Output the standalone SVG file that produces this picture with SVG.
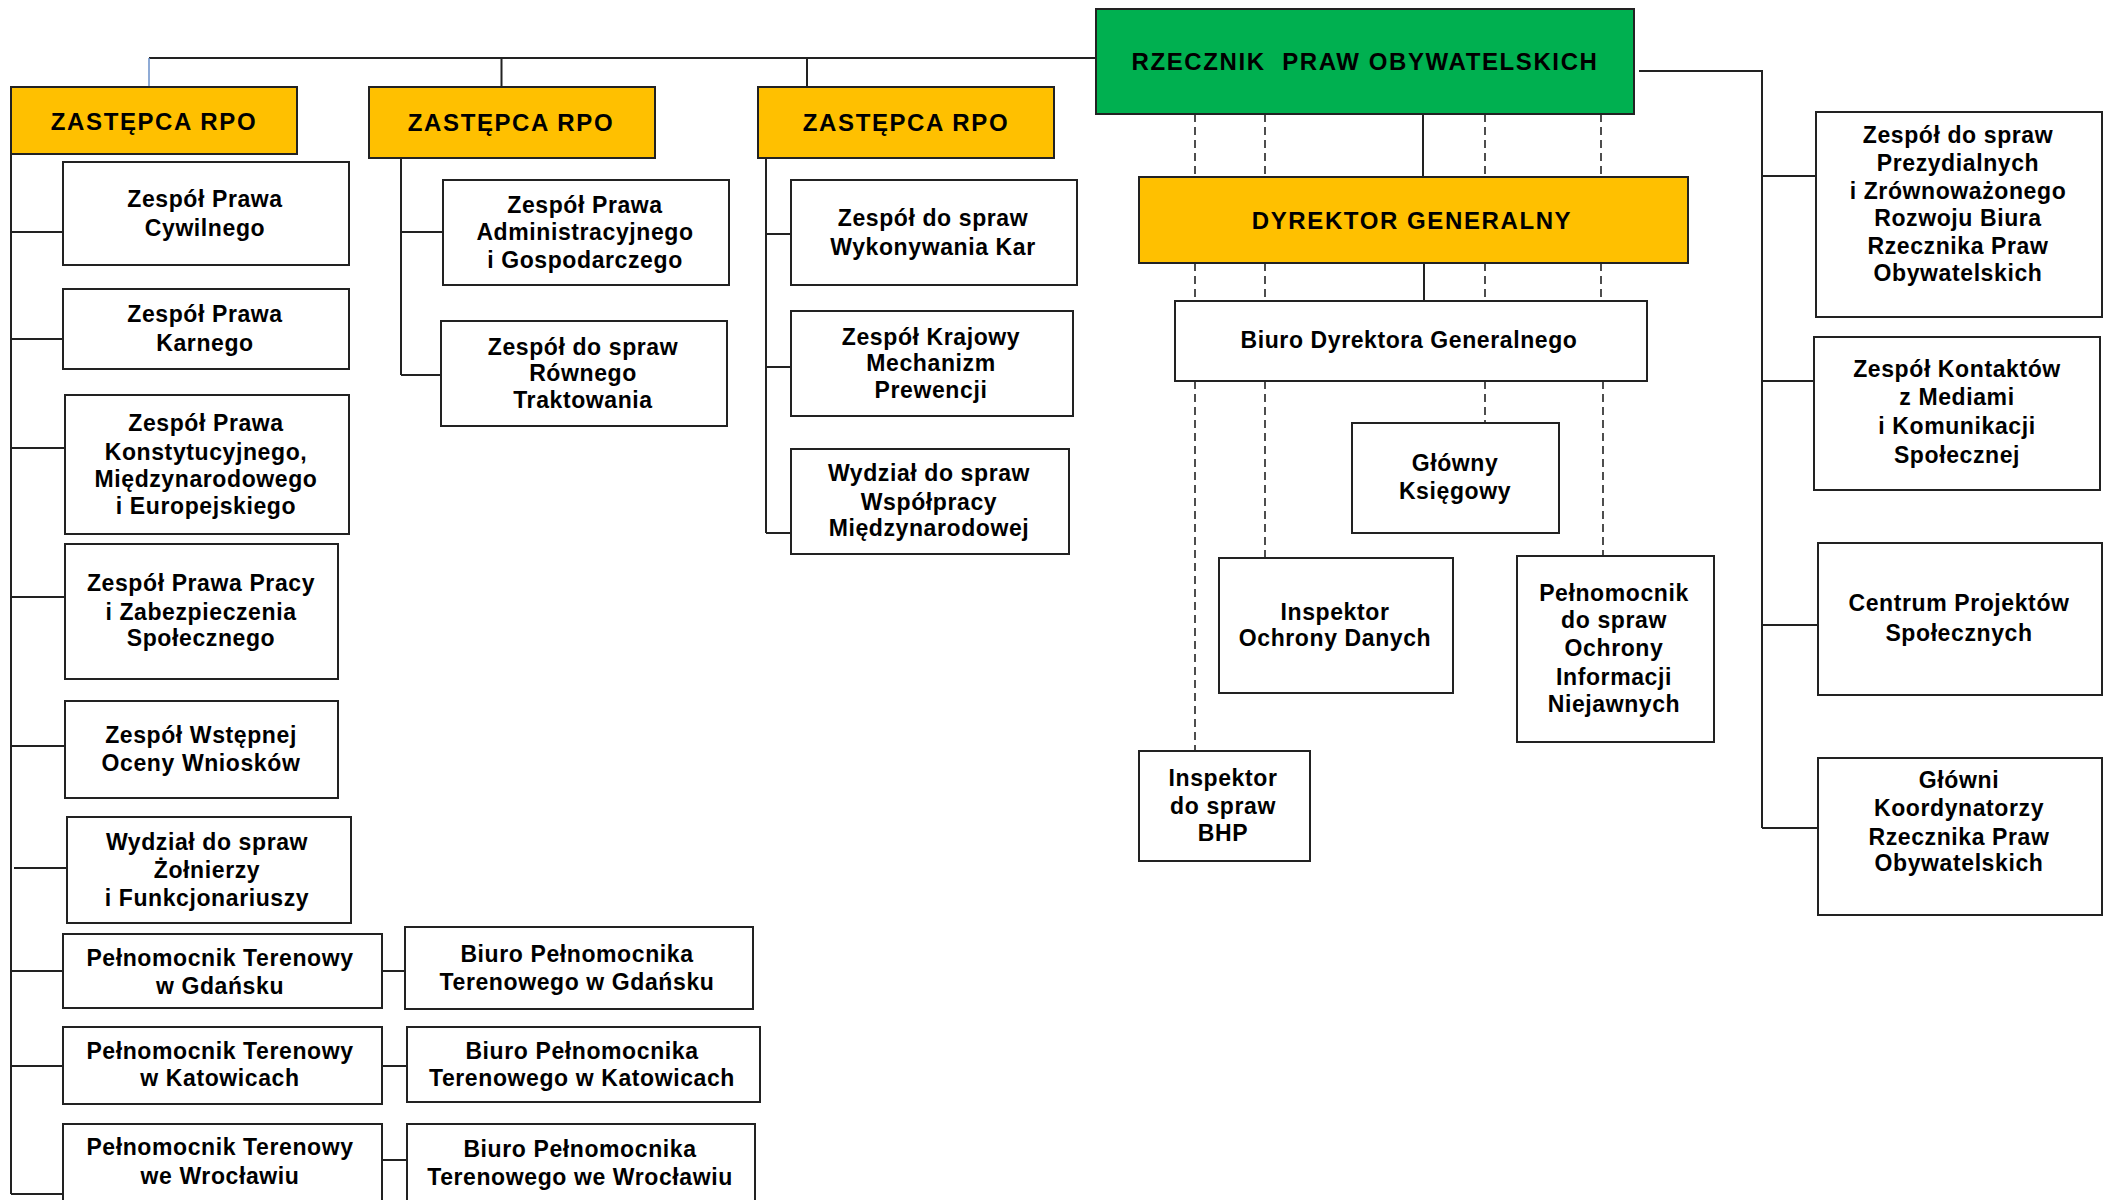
<svg xmlns="http://www.w3.org/2000/svg" width="2105" height="1200" viewBox="0 0 2105 1200">
<style>
.box{fill:#fff;stroke:#222;stroke-width:2}
.g{fill:#00B050}
.y{fill:#FFC000}
.ln{fill:none;stroke:#222;stroke-width:2}
.ds{fill:none;stroke:#222;stroke-width:1.6;stroke-dasharray:8 5}
.bl{fill:none;stroke:#6a8fc8;stroke-width:1.5}
text{font-family:"Liberation Sans",Arial,sans-serif;font-weight:bold;font-size:23px;letter-spacing:0.6px;text-anchor:middle;fill:#000}
text.h{font-size:24px;letter-spacing:1.6px}
</style>
<rect width="2105" height="1200" fill="#fff"/>
<g id="connectors">
<path class="ln" d="M149,58 H1096"/>
<path class="bl" d="M149,58 V87"/>
<path class="ln" d="M501.5,58 V87 M807,58 V87"/>
<path class="ln" d="M1639,71 H1762 V828 M1762,176 H1816 M1762,381 H1814 M1762,625 H1818 M1762,828 H1818"/>
<path class="ln" d="M11,154 V1194 M11,232 H63 M11,339 H63 M11,448 H65 M11,597 H65 M11,746 H65 M14,868 H67 M11,971 H63 M11,1066 H63 M11,1194 H63"/>
<path class="ln" d="M382,971 H405 M382,1066 H407 M382,1160 H407"/>
<path class="ln" d="M401,158 V375 M401,232 H443 M401,375 H441"/>
<path class="ln" d="M766,158 V533 M766,234 H791 M766,367 H791 M766,533 H791"/>
<path class="ln" d="M1423,114 V177 M1424,263 V301"/>
<path class="ds" d="M1195,114 V177 M1265,114 V177 M1485,114 V177 M1601,114 V177"/>
<path class="ds" d="M1195,263 V301 M1265,263 V301 M1485,263 V301 M1601,263 V301"/>
<path class="ds" d="M1195,381 V751 M1265,381 V558 M1485,381 V423 M1603,381 V556"/>
</g>
<g id="rpo"><rect class="box g" x="1096" y="9" width="538" height="105"/><text class="h" x="1365" y="70" xml:space="preserve">RZECZNIK  PRAW OBYWATELSKICH</text></g>
<g id="dg"><rect class="box y" x="1139" y="177" width="549" height="86"/><text class="h" x="1412" y="229">DYREKTOR GENERALNY</text></g>
<g id="biuro-dg"><rect class="box" x="1175" y="301" width="472" height="80"/><text x="1409" y="348">Biuro Dyrektora Generalnego</text></g>
<g id="zastepca1"><rect class="box y" x="11" y="87" width="286" height="67"/><text class="h" x="154" y="130">ZASTĘPCA RPO</text></g>
<g id="zastepca2"><rect class="box y" x="369" y="87" width="286" height="71"/><text class="h" x="511" y="131">ZASTĘPCA RPO</text></g>
<g id="zastepca3"><rect class="box y" x="758" y="87" width="296" height="71"/><text class="h" x="906" y="131">ZASTĘPCA RPO</text></g>
<g id="cywilnego"><rect class="box" x="63" y="162" width="286" height="103"/><text x="205" y="207">Zespół Prawa</text><text x="205" y="236">Cywilnego</text></g>
<g id="karnego"><rect class="box" x="63" y="289" width="286" height="80"/><text x="205" y="322">Zespół Prawa</text><text x="205" y="351">Karnego</text></g>
<g id="konstytucyjnego"><rect class="box" x="65" y="395" width="284" height="139"/><text x="206" y="431">Zespół Prawa</text><text x="206" y="460">Konstytucyjnego,</text><text x="206" y="487">Międzynarodowego</text><text x="206" y="514">i Europejskiego</text></g>
<g id="pracy"><rect class="box" x="65" y="544" width="273" height="135"/><text x="201" y="591">Zespół Prawa Pracy</text><text x="201" y="620">i Zabezpieczenia</text><text x="201" y="646">Społecznego</text></g>
<g id="wstepnej"><rect class="box" x="65" y="701" width="273" height="97"/><text x="201" y="743">Zespół Wstępnej</text><text x="201" y="771">Oceny Wniosków</text></g>
<g id="zolnierzy"><rect class="box" x="67" y="817" width="284" height="106"/><text x="207" y="850">Wydział do spraw</text><text x="207" y="878">Żołnierzy</text><text x="207" y="906">i Funkcjonariuszy</text></g>
<g id="pt-gdansk"><rect class="box" x="63" y="934" width="319" height="74"/><text x="220" y="966">Pełnomocnik Terenowy</text><text x="220" y="994">w Gdańsku</text></g>
<g id="biuro-gdansk"><rect class="box" x="405" y="927" width="348" height="82"/><text x="577" y="962">Biuro Pełnomocnika</text><text x="577" y="990">Terenowego w Gdańsku</text></g>
<g id="pt-katowice"><rect class="box" x="63" y="1027" width="319" height="77"/><text x="220" y="1059">Pełnomocnik Terenowy</text><text x="220" y="1086">w Katowicach</text></g>
<g id="biuro-katowice"><rect class="box" x="407" y="1027" width="353" height="75"/><text x="582" y="1059">Biuro Pełnomocnika</text><text x="582" y="1086">Terenowego w Katowicach</text></g>
<g id="pt-wroclaw"><rect class="box" x="63" y="1124" width="319" height="90"/><text x="220" y="1155">Pełnomocnik Terenowy</text><text x="220" y="1184">we Wrocławiu</text></g>
<g id="biuro-wroclaw"><rect class="box" x="407" y="1124" width="348" height="90"/><text x="580" y="1157">Biuro Pełnomocnika</text><text x="580" y="1185">Terenowego we Wrocławiu</text></g>
<g id="administracyjnego"><rect class="box" x="443" y="180" width="286" height="105"/><text x="585" y="213">Zespół Prawa</text><text x="585" y="240">Administracyjnego</text><text x="585" y="268">i Gospodarczego</text></g>
<g id="rownego"><rect class="box" x="441" y="321" width="286" height="105"/><text x="583" y="355">Zespół do spraw</text><text x="583" y="381">Równego</text><text x="583" y="408">Traktowania</text></g>
<g id="wykonywania"><rect class="box" x="791" y="180" width="286" height="105"/><text x="933" y="226">Zespół do spraw</text><text x="933" y="255">Wykonywania Kar</text></g>
<g id="krajowy"><rect class="box" x="791" y="311" width="282" height="105"/><text x="931" y="345">Zespół Krajowy</text><text x="931" y="371">Mechanizm</text><text x="931" y="398">Prewencji</text></g>
<g id="wspolpracy"><rect class="box" x="791" y="449" width="278" height="105"/><text x="929" y="481">Wydział do spraw</text><text x="929" y="510">Współpracy</text><text x="929" y="536">Międzynarodowej</text></g>
<g id="ksiegowy"><rect class="box" x="1352" y="423" width="207" height="110"/><text x="1455" y="471">Główny</text><text x="1455" y="499">Księgowy</text></g>
<g id="iod"><rect class="box" x="1219" y="558" width="234" height="135"/><text x="1335" y="620">Inspektor</text><text x="1335" y="646">Ochrony Danych</text></g>
<g id="oin"><rect class="box" x="1517" y="556" width="197" height="186"/><text x="1614" y="601">Pełnomocnik</text><text x="1614" y="628">do spraw</text><text x="1614" y="656">Ochrony</text><text x="1614" y="685">Informacji</text><text x="1614" y="712">Niejawnych</text></g>
<g id="bhp"><rect class="box" x="1139" y="751" width="171" height="110"/><text x="1223" y="786">Inspektor</text><text x="1223" y="814">do spraw</text><text x="1223" y="841">BHP</text></g>
<g id="prezydialnych"><rect class="box" x="1816" y="112" width="286" height="205"/><text x="1958" y="143">Zespół do spraw</text><text x="1958" y="171">Prezydialnych</text><text x="1958" y="199">i Zrównoważonego</text><text x="1958" y="226">Rozwoju Biura</text><text x="1958" y="254">Rzecznika Praw</text><text x="1958" y="281">Obywatelskich</text></g>
<g id="kontaktow"><rect class="box" x="1814" y="337" width="286" height="153"/><text x="1957" y="377">Zespół Kontaktów</text><text x="1957" y="405">z Mediami</text><text x="1957" y="434">i Komunikacji</text><text x="1957" y="463">Społecznej</text></g>
<g id="centrum"><rect class="box" x="1818" y="543" width="284" height="152"/><text x="1959" y="611">Centrum Projektów</text><text x="1959" y="641">Społecznych</text></g>
<g id="koordynatorzy"><rect class="box" x="1818" y="758" width="284" height="157"/><text x="1959" y="788">Główni</text><text x="1959" y="816">Koordynatorzy</text><text x="1959" y="845">Rzecznika Praw</text><text x="1959" y="871">Obywatelskich</text></g>
</svg>
